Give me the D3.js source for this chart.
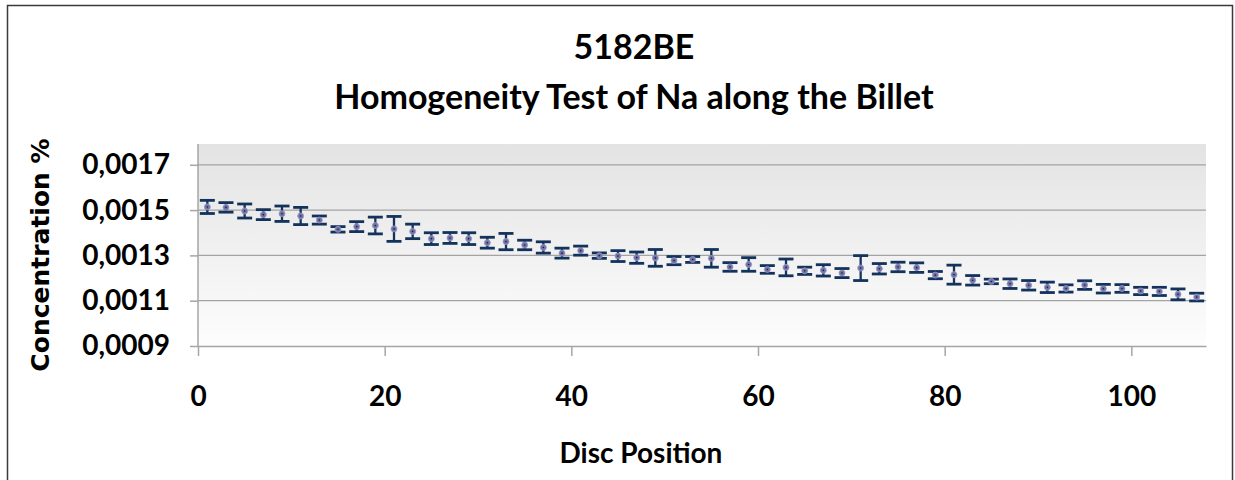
<!DOCTYPE html>
<html>
<head>
<meta charset="utf-8">
<script src="https://cdn.jsdelivr.net/npm/d3@7"></script>
<style>
  body { margin: 0; background: #fff; }
  svg { display: block; font-family: Lato, "Open Sans", sans-serif; }
</style>
</head>
<body>
<div id="chart"></div>
<script>
/** Chart data */
const positions = [1, 3, 5, 7, 9, 11, 13, 15, 17, 19, 21, 23, 25, 27, 29, 31, 33, 35, 37, 39,
  41, 43, 45, 47, 49, 51, 53, 55, 57, 59, 61, 63, 65, 67, 69, 71, 73, 75, 77, 79,
  81, 83, 85, 87, 89, 91, 93, 95, 97, 99, 101, 103, 105, 107];
const concentration = [0.001514, 0.001512, 0.001496, 0.001480, 0.001484, 0.001474, 0.001456, 0.001415, 0.001427, 0.001432,
  0.001417, 0.001406, 0.001374, 0.001377, 0.001374, 0.001356, 0.001361, 0.001346, 0.001335, 0.001310,
  0.001321, 0.001299, 0.001297, 0.001290, 0.001289, 0.001277, 0.001282, 0.001287, 0.001249, 0.001260,
  0.001238, 0.001247, 0.001232, 0.001234, 0.001222, 0.001244, 0.001241, 0.001249, 0.001246, 0.001213,
  0.001215, 0.001190, 0.001185, 0.001175, 0.001168, 0.001159, 0.001154, 0.001169, 0.001153, 0.001154,
  0.001143, 0.001141, 0.001128, 0.001116];
const errors = [0.000029, 0.000021, 0.000031, 0.000022, 0.000034, 0.000038, 0.000018, 0.000012, 0.000022, 0.000037,
  0.000055, 0.000032, 0.000026, 0.000024, 0.000026, 0.000024, 0.000036, 0.000021, 0.000025, 0.000022,
  0.000020, 0.000012, 0.000024, 0.000025, 0.000037, 0.000018, 0.000013, 0.000039, 0.000019, 0.000030,
  0.000017, 0.000037, 0.000016, 0.000025, 0.000020, 0.000055, 0.000023, 0.000021, 0.000021, 0.000016,
  0.000042, 0.000021, 0.000010, 0.000021, 0.000021, 0.000023, 0.000016, 0.000019, 0.000019, 0.000017,
  0.000016, 0.000018, 0.000024, 0.000017];
const xTicks = [0, 20, 40, 60, 80, 100];
const yTicks = [0.0009, 0.0011, 0.0013, 0.0015, 0.0017];

const data = positions.map((p, i) => ({x: p, y: concentration[i], e: errors[i]}));

/** Dimensions */
const w = 1235, h = 480;
const plot = {left: 198, right: 1206, top: 144, bottom: 346};

const xScale = d3.scaleLinear().domain([0, 108]).range([plot.left, plot.right]);
const yScale = d3.scaleLinear().domain([0.0009, 0.0018]).range([plot.bottom, plot.bottom - 4.5 * 45.3]);

const locale = d3.formatLocale({decimal: ",", thousands: ".", grouping: [3], currency: ["", ""]});
const yFmt = locale.format(".4f");

const svg = d3.select("#chart").append("svg")
  .attr("width", w)
  .attr("height", h);

const defs = svg.append("defs");
const grad = defs.append("linearGradient")
  .attr("id", "bg").attr("x1", 0).attr("y1", 0).attr("x2", 0).attr("y2", 1);
grad.append("stop").attr("offset", "0%").attr("stop-color", "#e3e3e3");
grad.append("stop").attr("offset", "100%").attr("stop-color", "#fdfdfd");

/** Outer chart border */
svg.append("rect")
  .attr("x", 7.5).attr("y", 5.5)
  .attr("width", 1225).attr("height", 490)
  .attr("fill", "none")
  .attr("stroke", "#3a3a3a")
  .attr("stroke-width", 1.5);

/** Plot area background */
svg.append("rect")
  .attr("x", plot.left).attr("y", plot.top)
  .attr("width", plot.right - plot.left)
  .attr("height", plot.bottom - plot.top)
  .attr("fill", "url(#bg)");

/** Grid lines */
svg.append("g").selectAll("line")
  .data(yTicks.slice(1))
  .enter().append("line")
  .attr("x1", plot.left).attr("x2", plot.right)
  .attr("y1", (d) => yScale(d)).attr("y2", (d) => yScale(d))
  .attr("stroke", "#a3a3a3")
  .attr("stroke-width", 1.3);

/** Axes */
const xAxis = d3.axisBottom(xScale).tickValues(xTicks).tickSize(10).tickPadding(30).tickSizeOuter(0);
const yAxis = d3.axisLeft(yScale).tickValues(yTicks).tickFormat(yFmt).tickSize(8).tickPadding(20).tickSizeOuter(0);

const gx = svg.append("g")
  .attr("id", "x-axis")
  .attr("transform", "translate(0," + plot.bottom + ")")
  .call(xAxis);
const gy = svg.append("g")
  .attr("id", "y-axis")
  .attr("transform", "translate(" + plot.left + ",0)")
  .call(yAxis);

[gx, gy].forEach((g) => {
  g.select(".domain").attr("stroke", "#a6a6a6").attr("stroke-width", 1.5);
  g.selectAll(".tick line").attr("stroke", "#a6a6a6").attr("stroke-width", 1.5);
  g.selectAll("text")
    .attr("fill", "#000")
    .style("font-size", "28px")
    .style("font-weight", "bold")
    .style("font-family", "Lato, sans-serif");
});
// y axis line runs from the top of the plot area
gy.select(".domain").attr("d", "M0," + plot.top + "V" + plot.bottom);
gy.selectAll(".tick text").attr("dx", "0");

/** Error bars */
const bars = svg.append("g").attr("id", "errorbars");
const cap = 7.5;
bars.selectAll("g")
  .data(data)
  .enter().append("g")
  .each(function(d) {
    const g = d3.select(this);
    const x = xScale(d.x);
    const y0 = yScale(d.y + d.e), y1 = yScale(d.y - d.e);
    g.append("line").attr("x1", x).attr("x2", x).attr("y1", y0).attr("y2", y1)
      .attr("stroke", "#13335c").attr("stroke-width", 2.3);
    g.append("line").attr("x1", x - cap).attr("x2", x + cap).attr("y1", y0).attr("y2", y0)
      .attr("stroke", "#13335c").attr("stroke-width", 2.8);
    g.append("line").attr("x1", x - cap).attr("x2", x + cap).attr("y1", y1).attr("y2", y1)
      .attr("stroke", "#13335c").attr("stroke-width", 2.8);
  });

/** Markers */
svg.append("g").attr("id", "points").selectAll("circle")
  .data(data)
  .enter().append("circle")
  .attr("cx", (d) => xScale(d.x))
  .attr("cy", (d) => yScale(d.y))
  .attr("r", 3)
  .attr("fill", "#7272a8")
  .attr("stroke", "#9a9ac4")
  .attr("stroke-width", 0.8);
svg.append("g").selectAll("circle")
  .data(data)
  .enter().append("circle")
  .attr("cx", (d) => xScale(d.x))
  .attr("cy", (d) => yScale(d.y))
  .attr("r", 0.8)
  .attr("fill", "#1d1d40");

/** Titles */
svg.append("text")
  .attr("x", 634).attr("y", 59)
  .attr("text-anchor", "middle")
  .style("font-size", "34px").style("font-weight", "bold")
  .text("5182BE");
svg.append("text")
  .attr("x", 634).attr("y", 109)
  .attr("text-anchor", "middle")
  .style("font-size", "34px").style("font-weight", "bold")
  .text("Homogeneity Test of Na along the Billet");

svg.append("text")
  .attr("x", 641).attr("y", 463)
  .attr("text-anchor", "middle")
  .style("font-size", "28px").style("font-weight", "bold")
  .text("Disc Position");

svg.append("text")
  .attr("transform", "translate(49,255) rotate(-90)")
  .attr("text-anchor", "middle")
  .style("font-size", "25px").style("font-weight", "bold")
  .style("font-family", "'DejaVu Sans', sans-serif")
  .text("Concentration %");
</script>
</body>
</html>
